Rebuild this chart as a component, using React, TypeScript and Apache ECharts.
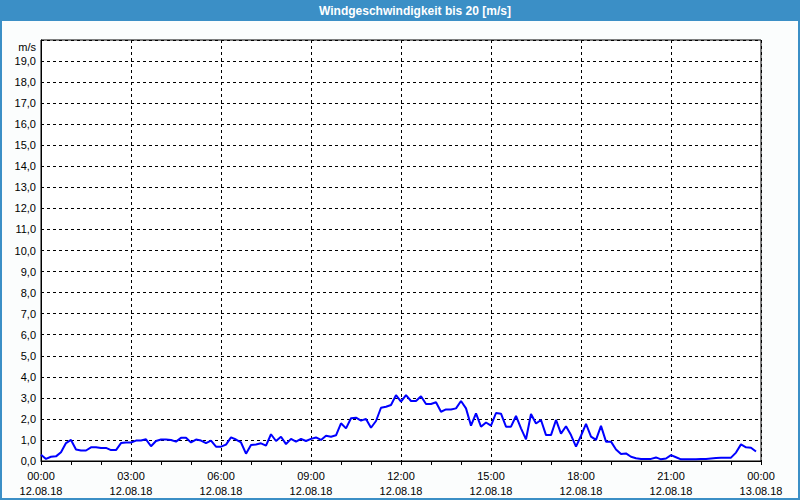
import React, { useEffect, useRef } from "react";
import * as echarts from "echarts";

// 10-minute samples, 12.08.18 00:00 .. 23:50 (m/s)
const speeds: number[] = [
  0.3, 0.1, 0.2, 0.22, 0.42, 0.85, 1.0, 0.55, 0.5, 0.5, 0.65, 0.65,
  0.62, 0.62, 0.52, 0.52, 0.85, 0.88, 0.88, 0.97, 0.97, 1.03, 0.7, 0.95,
  1.02, 1.02, 1.0, 0.92, 1.1, 1.1, 0.88, 1.02, 0.97, 0.85, 0.97, 0.68,
  0.68, 0.78, 1.12, 1.02, 0.88, 0.35, 0.76, 0.78, 0.84, 0.73, 1.27, 0.95,
  1.15, 0.8, 1.05, 0.92, 1.05, 0.95, 1.05, 1.12, 1.0, 1.2, 1.15, 1.22,
  1.79, 1.55, 2.03, 2.06, 1.92, 2.0, 1.58, 1.9, 2.53, 2.58, 2.66, 3.13,
  2.82, 3.13, 2.85, 2.85, 3.08, 2.71, 2.71, 2.79, 2.34, 2.45, 2.45, 2.5,
  2.85, 2.5, 1.68, 2.26, 1.63, 1.83, 1.68, 2.28, 2.25, 1.63, 1.63, 2.14,
  1.55, 1.03, 2.23, 1.78, 1.95, 1.23, 1.23, 1.95, 1.3, 1.65, 1.23, 0.68,
  1.2, 1.76, 1.16, 1.0, 1.67, 0.92, 0.92, 0.55, 0.33, 0.36, 0.2, 0.13,
  0.1, 0.1, 0.1, 0.17, 0.08, 0.12, 0.28, 0.18, 0.08, 0.08, 0.08, 0.08,
  0.1, 0.1, 0.12, 0.14, 0.15, 0.15, 0.16, 0.4, 0.79, 0.65, 0.63, 0.45,
];

const pad = (n: number) => (n < 10 ? "0" + n : "" + n);
// category per 10 minutes, 145 slots: "12.08.18 00:00" ... "13.08.18 00:00"
const times: string[] = Array.from({ length: 145 }, (_, i) => {
  const mins = i * 10;
  const day = mins >= 1440 ? "13.08.18" : "12.08.18";
  const m = mins % 1440;
  return `${day} ${pad(Math.floor(m / 60))}:${pad(m % 60)}`;
});

const titleText = "Windgeschwindigkeit bis 20 [m/s]";
const unitText = "m/s";

const BLUE = "#3b8fc6";
const FONT = "Liberation Sans";

export default function App() {
  const ref = useRef<HTMLDivElement>(null);
  useEffect(() => {
    if (!ref.current) return;
    const chart = echarts.init(ref.current, undefined, { renderer: "svg" });
    chart.setOption({
      animation: false,
      backgroundColor: "#fbfdfd",
      textStyle: { fontFamily: FONT },
      grid: {
        left: 41,
        right: 39,
        top: 40,
        bottom: 39,
        show: true,
        backgroundColor: "#ffffff",
        borderColor: "#000000",
        borderWidth: 1,
      },
      graphic: [
        {
          type: "rect",
          shape: { x: 0, y: 0, width: 800, height: 21 },
          style: { fill: BLUE },
          silent: true,
        },
        {
          type: "rect",
          shape: { x: 1, y: 1, width: 798, height: 498 },
          style: { fill: "none", stroke: BLUE, lineWidth: 2 },
          silent: true,
        },
        {
          type: "text",
          x: 415,
          y: 11,
          style: {
            text: titleText,
            fill: "#ffffff",
            font: `bold 12px ${FONT}`,
            align: "center",
            verticalAlign: "middle",
          },
        },
        {
          type: "text",
          x: 36,
          y: 47,
          style: {
            text: unitText,
            fill: "#000000",
            font: `11px ${FONT}`,
            align: "right",
            verticalAlign: "middle",
          },
        },
      ],
      xAxis: {
        type: "category",
        data: times,
        boundaryGap: false,
        axisLine: { show: true, lineStyle: { color: "#000", width: 1 } },
        axisTick: {
          show: true,
          interval: 5,
          length: 4,
          inside: false,
          lineStyle: { color: "#000" },
        },
        axisLabel: {
          interval: 17,
          color: "#000",
          fontSize: 11,
          fontFamily: FONT,
          margin: 7,
          lineHeight: 15,
          formatter: (v: string) => {
            const [d, t] = v.split(" ");
            return `${t}\n${d}`;
          },
        },
        splitLine: {
          show: true,
          interval: 17,
          lineStyle: { color: "#000", type: [3, 3], width: 1 },
        },
      },
      yAxis: {
        type: "value",
        min: 0,
        max: 20,
        interval: 1,
        axisLine: { show: true, lineStyle: { color: "#000" } },
        axisTick: { show: false },
        axisLabel: {
          color: "#000",
          fontSize: 11,
          fontFamily: FONT,
          margin: 5,
          formatter: (v: number) => (v >= 20 ? "" : v.toFixed(1).replace(".", ",")),
        },
        splitLine: {
          show: true,
          lineStyle: { color: "#000", type: [3, 3], width: 1 },
        },
      },
      series: [
        {
          type: "line",
          data: speeds,
          showSymbol: false,
          symbol: "none",
          lineStyle: { color: "#0000ff", width: 2 },
          itemStyle: { color: "#0000ff" },
        },
      ],
    });
    return () => chart.dispose();
  }, []);
  return (
    <div
      ref={ref}
      style={{ position: "fixed", left: 0, top: 0, width: 800, height: 500 }}
    />
  );
}
